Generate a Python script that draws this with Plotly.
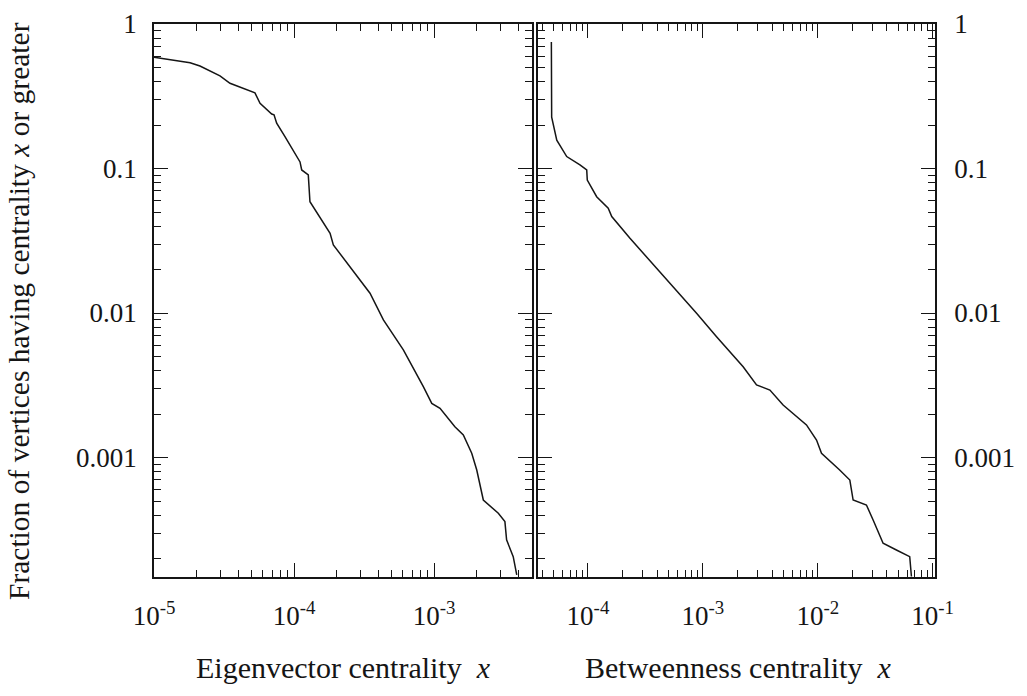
import plotly.graph_objects as go

# ---- data ----
eig_x = [1.0e-5, 1.81e-5, 2.13e-5, 2.96e-5, 3.49e-5, 4.59e-5, 5.26e-5, 5.72e-5, 6.93e-5, 7.20e-5,
         7.52e-5, 8.62e-5, 9.89e-5, 1.104e-4, 1.135e-4, 1.265e-4, 1.30e-4, 1.81e-4, 1.91e-4, 2.51e-4,
         3.49e-4, 4.35e-4, 6.04e-4, 8.39e-4, 9.64e-4, 1.104e-3, 1.41e-3, 1.62e-3, 1.86e-3, 2.02e-3,
         2.25e-3, 2.88e-3, 3.21e-3, 3.30e-3, 3.68e-3, 3.90e-3]
eig_y = [0.589, 0.540, 0.512, 0.437, 0.389, 0.353, 0.334, 0.283, 0.238, 0.235,
         0.206, 0.166, 0.131, 0.111, 0.0977, 0.0902, 0.0589, 0.0356, 0.0296, 0.0209,
         0.0137, 0.00895, 0.00555, 0.00309, 0.00237, 0.00219, 0.00163, 0.00143, 0.00107, 0.000819,
         0.000508, 0.000411, 0.000360, 0.000269, 0.000206, 0.000154]

btw_x = [4.80e-5, 4.83e-5, 5.35e-5, 6.53e-5, 8.51e-5, 9.75e-5, 9.86e-5, 1.19e-4, 1.50e-4, 1.61e-4,
         2.32e-4, 3.95e-4, 7.71e-4, 8.81e-4, 1.315e-3, 2.24e-3, 2.93e-3, 3.83e-3, 4.99e-3, 6.10e-3,
         7.97e-3, 9.75e-3, 1.077e-2, 1.55e-2, 1.90e-2, 2.03e-2, 2.65e-2, 3.03e-2, 3.70e-2, 4.83e-2,
         6.31e-2, 6.53e-2]
btw_y = [0.75, 0.227, 0.157, 0.121, 0.106, 0.0977, 0.0832, 0.0638, 0.0531, 0.0465,
         0.0329, 0.0204, 0.01135, 0.00995, 0.00686, 0.00425, 0.00318, 0.00293, 0.00231, 0.00202,
         0.00168, 0.00132, 0.00107, 0.000819, 0.000698, 0.000508, 0.000469, 0.000369, 0.000255, 0.000229,
         0.000206, 0.000150]

y_ticks = [1, 0.1, 0.01, 0.001]
y_labels = ["1", "0.1", "0.01", "0.001"]
eig_ticks = [1e-5, 1e-4, 1e-3]
eig_labels = ["10<sup>-5</sup>", "10<sup>-4</sup>", "10<sup>-3</sup>"]
btw_ticks = [1e-4, 1e-3, 1e-2, 1e-1]
btw_labels = ["10<sup>-4</sup>", "10<sup>-3</sup>", "10<sup>-2</sup>", "10<sup>-1</sup>"]

x_title_left = "Eigenvector centrality  <i>x</i>"
x_title_right = "Betweenness centrality  <i>x</i>"
y_title = "Fraction of vertices having centrality <i>x</i> or greater"

W, H = 1027, 696
FONT = "Liberation Serif, Times New Roman, serif"
INK = "#151515"


def minor_vals(lo, hi):
    vals = []
    for e in range(lo, hi + 1):
        for m in range(2, 10):
            vals.append(m * 10.0 ** e)
    return vals


def px_x(p):
    return p / W


def px_y(p):
    return 1 - p / H


fig = go.Figure()
fig.add_trace(go.Scatter(x=eig_x, y=eig_y, mode="lines", xaxis="x", yaxis="y",
                         line=dict(color=INK, width=1.5), showlegend=False, hoverinfo="skip"))
fig.add_trace(go.Scatter(x=btw_x, y=btw_y, mode="lines", xaxis="x2", yaxis="y2",
                         line=dict(color=INK, width=1.5), showlegend=False, hoverinfo="skip"))

common = dict(type="log", showgrid=False, zeroline=False, showline=True, linecolor=INK, linewidth=1.6,
              mirror="ticks", ticks="inside", ticklen=14, tickwidth=1.4, tickcolor=INK, automargin=False,
              tickfont=dict(family=FONT, size=27, color=INK))
minor_style = dict(ticks="inside", ticklen=7, tickwidth=1.3, tickcolor=INK, showgrid=False)

fig.update_layout(
    template="none",
    width=W, height=H, margin=dict(l=0, r=0, t=0, b=0, pad=0),
    paper_bgcolor="white", plot_bgcolor="white",
    xaxis=dict(common, domain=[px_x(154), px_x(532)], range=[-5, -2.3], anchor="y",
               tickmode="array", tickvals=eig_ticks, ticktext=eig_labels, ticklabelstandoff=14,
               minor=dict(minor_style, tickmode="array", tickvals=minor_vals(-5, -3))),
    yaxis=dict(common, domain=[px_y(577), px_y(24)], range=[-3.827, 0], anchor="x",
               tickmode="array", tickvals=y_ticks, ticktext=y_labels, ticklabelstandoff=10,
               minor=dict(minor_style, tickmode="array", tickvals=minor_vals(-4, -1))),
    xaxis2=dict(common, domain=[px_x(538), px_x(935)], range=[-4.435, -0.98], anchor="y2",
                tickmode="array", tickvals=btw_ticks, ticktext=btw_labels, ticklabelstandoff=14,
                minor=dict(minor_style, tickmode="array", tickvals=minor_vals(-5, -1))),
    yaxis2=dict(common, domain=[px_y(577), px_y(24)], range=[-3.827, 0], anchor="x2", side="right",
                tickmode="array", tickvals=y_ticks, ticktext=y_labels, ticklabelstandoff=12,
                minor=dict(minor_style, tickmode="array", tickvals=minor_vals(-4, -1))),
    annotations=[
        dict(text=x_title_left, x=px_x(343), y=px_y(667), xref="paper", yref="paper",
             showarrow=False, xanchor="center", yanchor="middle",
             font=dict(family=FONT, size=30, color=INK)),
        dict(text=x_title_right, x=px_x(738), y=px_y(667), xref="paper", yref="paper",
             showarrow=False, xanchor="center", yanchor="middle",
             font=dict(family=FONT, size=30, color=INK)),
        dict(text=y_title, x=px_x(19), y=px_y(311), xref="paper", yref="paper",
             showarrow=False, xanchor="center", yanchor="middle", textangle=-90,
             font=dict(family=FONT, size=29.5, color=INK)),
    ],
)

fig.write_html("out.html")
